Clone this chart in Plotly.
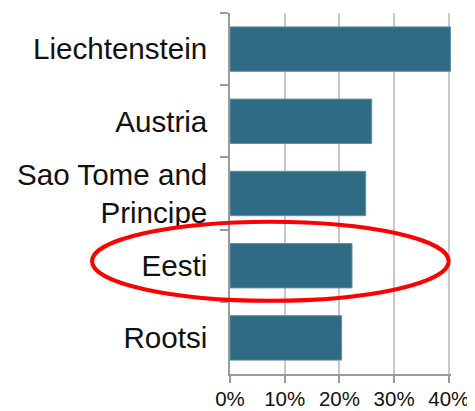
import plotly.graph_objects as go

categories = ["Liechtenstein", "Austria", "Sao Tome and<br>Principe", "Eesti", "Rootsi"]
values = [0.403, 0.259, 0.248, 0.223, 0.204]
x_ticks = [0, 0.1, 0.2, 0.3, 0.4]
x_tick_labels = ["0%", "10%", "20%", "30%", "40%"]

fig = go.Figure()
fig.add_trace(go.Bar(
    y=categories, x=values, orientation="h",
    marker=dict(color="#2F6B84", line=dict(color="#5F8FA3", width=1)),
    hoverinfo="skip",
))

OFF = 8  # default page body margin
W, H = 475 - OFF, 411 - OFF
# plot area in screen pixels: x 230..451, y 13..374
L, R, T, B = 230 - OFF, 475 - 451, 13 - OFF, 411 - 374

fig.update_layout(
    width=W, height=H,
    margin=dict(l=L, r=R, t=T, b=B, pad=0, autoexpand=False),
    paper_bgcolor="white", plot_bgcolor="white",
    bargap=0.385,
    showlegend=False,
    font=dict(family="Liberation Sans, Arial, sans-serif", color="#111111"),
)
fig.update_xaxes(
    range=[0, 0.404], automargin=False,
    tickvals=x_ticks, ticktext=x_tick_labels,
    tickfont=dict(size=20.5),
    ticklabelstandoff=-1,
    showgrid=True, gridcolor="#C8C8C8", gridwidth=1.5,
    showline=True, linecolor="#9A9A9A", linewidth=1.5,
    ticks="outside", ticklen=7, tickcolor="#9A9A9A", tickwidth=1.5,
    zeroline=False, fixedrange=True,
)
fig.update_yaxes(
    type="category", automargin=False,
    categoryorder="array", categoryarray=categories,
    autorange="reversed",
    tickfont=dict(size=29.6),
    showline=True, linecolor="#9A9A9A", linewidth=1.5,
    ticks="outside", tickson="boundaries", ticklen=8, tickcolor="#9A9A9A", tickwidth=1.5,
    ticklabelstandoff=15,
    showgrid=False, zeroline=False, fixedrange=True,
)

# red ellipse highlighting Eesti (paper coordinates from screen pixels)
px0, px1 = 230, 451
py0, py1 = 13, 374
pw = px1 - px0
ph = py1 - py0
fig.add_shape(
    type="circle", xref="paper", yref="paper",
    x0=(92 - px0) / pw, x1=(448.7 - px0) / pw,
    y0=(py1 - 300.8) / ph, y1=(py1 - 221.7) / ph,
    line=dict(color="#FF0000", width=4),
    layer="above",
)

fig.write_html("out.html", config={"displayModeBar": False})
